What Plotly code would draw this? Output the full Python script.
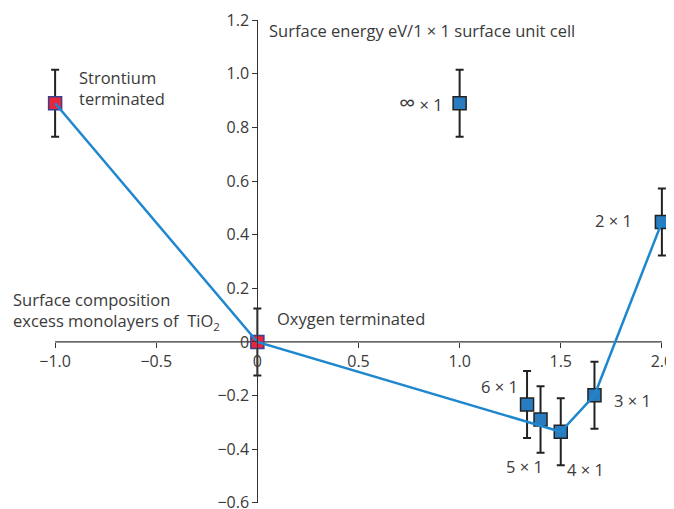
import plotly.graph_objects as go

# Data
red_x = [-1.0, 0.0]
red_y = [0.89, 0.0]
red_err = [0.125, 0.125]

blue_x = [1.0, 4/3, 1.4, 1.5, 5/3, 2.0]
blue_y = [0.89, -0.233, -0.289, -0.335, -0.199, 0.447]
blue_err = [0.125, 0.125, 0.124, 0.125, 0.125, 0.125]

line_x = [-1.0, 0.0, 1.5, 5/3, 2.0]
line_y = [0.89, 0.0, -0.335, -0.199, 0.447]

x_ticks = [-1.0, -0.5, 0.0, 0.5, 1.0, 1.5, 2.0]
x_ticktext = ["\u22121.0", "\u22120.5", "0", "0.5", "1.0", "1.5", "2.0"]
y_ticks = [1.2, 1.0, 0.8, 0.6, 0.4, 0.2, 0.0, -0.2, -0.4, -0.6]
y_ticktext = ["1.2", "1.0", "0.8", "0.6", "0.4", "0.2", "0", "\u22120.2", "\u22120.4", "\u22120.6"]

FONT = "Open Sans"
TXT = "#3a3a3a"
fs = 16.5
tfs = 16

x_range = [-1.05, 2.05]
y_range = [-0.6005, 1.2005]

fig = go.Figure()
fig.add_trace(go.Scatter(
    x=red_x, y=red_y, mode="markers",
    marker=dict(symbol="square", size=13, color="#e8253b", line=dict(color="#3b3f8f", width=1.5)),
    error_y=dict(type="data", array=red_err, visible=True, color="#222222", thickness=2, width=4),
    cliponaxis=False, showlegend=False))
fig.add_trace(go.Scatter(
    x=blue_x, y=blue_y, mode="markers",
    marker=dict(symbol="square", size=13, color="#2a7cc1", line=dict(color="#222222", width=1.5)),
    error_y=dict(type="data", array=blue_err, visible=True, color="#222222", thickness=2, width=4),
    cliponaxis=False, showlegend=False))
fig.add_trace(go.Scatter(
    x=line_x, y=line_y, mode="lines",
    line=dict(color="#1f87cd", width=2.5),
    cliponaxis=False, showlegend=False))

# x axis line from -1 to 2 along y=0
fig.add_shape(type="line", x0=x_ticks[0], x1=x_ticks[-1], y0=0, y1=0, xref="x", yref="y",
              line=dict(color="#333333", width=1.2), layer="below")

def ann(text, x, y, xanchor="left", yanchor="middle", align="left", xshift=0):
    fig.add_annotation(text=text, x=x, y=y, xref="x", yref="y", showarrow=False,
                       xanchor=xanchor, yanchor=yanchor, align=align, xshift=xshift,
                       font=dict(family=FONT, size=fs, color=TXT))

ann("Strontium<br>terminated", -0.89, 0.947)
ann("<span style='font-size:23px'>\u221e</span> \u00d7 1", 0.928, 0.893, xanchor="right")
ann("2 \u00d7 1", 1.862, 0.453, xanchor="right")
ann("Surface energy eV/1 \u00d7 1 surface unit cell", 0.048, 1.161)
ann("Surface composition<br>excess monolayers of  TiO<sub>2</sub>", -1.0, 0.114, xshift=-44)
ann("Oxygen terminated", 0.087, 0.088)
ann("6 \u00d7 1", 1.298, -0.167, xanchor="right")
ann("3 \u00d7 1", 1.753, -0.217)
ann("5 \u00d7 1", 1.219, -0.466)
ann("4 \u00d7 1", 1.52, -0.477)

axis_common = dict(
    showgrid=False, zeroline=False, linecolor="#333333", linewidth=1.2,
    ticks="outside", ticklen=5, tickwidth=1.2, tickcolor="#333333",
    tickfont=dict(family=FONT, size=tfs, color=TXT), anchor="free",
    automargin=False, ticklabeloverflow="allow",
)
fig.update_layout(
    width=666, height=501,
    margin=dict(l=36.9, r=1.9, t=11.5, b=6.2, autoexpand=False),
    paper_bgcolor="white", plot_bgcolor="white",
    xaxis=dict(range=x_range, tickvals=x_ticks, ticktext=x_ticktext, showline=False,
               position=(0 - y_range[0]) / (y_range[1] - y_range[0]), **axis_common),
    yaxis=dict(range=y_range, tickvals=y_ticks, ticktext=y_ticktext, showline=True,
               position=(0 - x_range[0]) / (x_range[1] - x_range[0]), **axis_common),
)
fig.write_html("out.html")
